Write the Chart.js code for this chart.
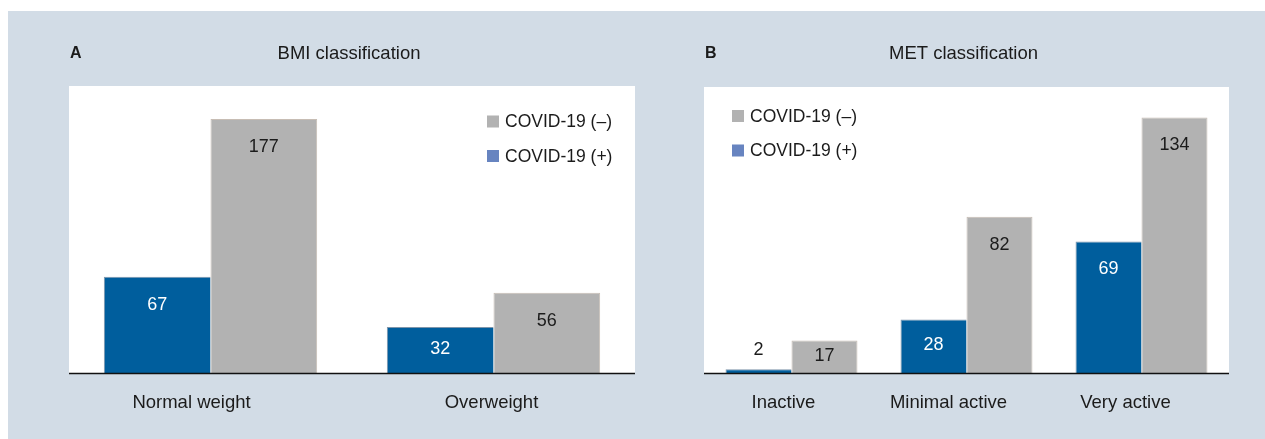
<!DOCTYPE html>
<html>
<head>
<meta charset="utf-8">
<script src="https://cdn.jsdelivr.net/npm/chart.js@4/dist/chart.umd.min.js"></script>
<style>
    html, body { margin: 0; padding: 0; background: #ffffff; }
    body { width: 1265px; height: 439px; position: relative; overflow: hidden; }
    .panel-bg { position: absolute; left: 8px; top: 11px; width: 1257px; height: 428px; background: #d2dce6; }
    .box { position: absolute; top: 11px; height: 428px; }
    #boxA { left: 8px; width: 640px; }
    #boxB { left: 648px; width: 617px; }
</style>
</head>
<body>
<div class="panel-bg"></div>
<div class="box" id="boxA"><canvas id="chartA"></canvas></div>
<div class="box" id="boxB"><canvas id="chartB"></canvas></div>
<script>
    // data
    const bmiCategories = ["Normal weight", "Overweight"];
    const bmiPositive = [67, 32];
    const bmiNegative = [177, 56];

    const metCategories = ["Inactive", "Minimal active", "Very active"];
    const metPositive = [2, 28, 69];
    const metNegative = [17, 82, 134];

    const seriesLabels = ["COVID-19 (+)", "COVID-19 (\u2013)"];

    const FONT = "'Liberation Sans', Arial, sans-serif";
    const TEXT = "#1b1b1b";
    const BLUE = "#005e9d";
    const GREY = "#b2b2b2";
    const legendSwatch = ["#6784c0", "#b2b2b2"];

    const panelDecor = {
        id: "panelDecor",
        beforeDraw(chart, args, opts) {
            const { ctx, chartArea: a } = chart;
            ctx.save();
            ctx.fillStyle = "#ffffff";
            ctx.fillRect(a.left, a.top, a.right - a.left, a.bottom - a.top);
            ctx.restore();
        },
        afterDatasetsDraw(chart, args, opts) {
            const { ctx, chartArea: a } = chart;
            ctx.save();

            // axis line
            ctx.strokeStyle = "#111111";
            ctx.lineWidth = 1.5;
            ctx.beginPath();
            ctx.moveTo(a.left, a.bottom + 0.5);
            ctx.lineTo(a.right, a.bottom + 0.5);
            ctx.stroke();

            // panel letter and title
            ctx.fillStyle = TEXT;
            ctx.textBaseline = "middle";
            ctx.font = `bold 16px ${FONT}`;
            ctx.textAlign = "left";
            ctx.fillText(opts.letter, a.left + 1, 43);
            ctx.font = `18.5px ${FONT}`;
            ctx.textAlign = "center";
            ctx.fillText(opts.title, (a.left + a.right) / 2 - 3, 43);

            // category labels
            const xScale = chart.scales.x;
            chart.data.labels.forEach((lab, i) => {
                const x = xScale.getPixelForValue(i) + (opts.labelShift[i] || 0);
                ctx.fillText(lab, x, a.bottom + 30);
            });

            // value labels
            ctx.font = `18px ${FONT}`;
            chart.data.datasets.forEach((ds, di) => {
                const meta = chart.getDatasetMeta(di);
                meta.data.forEach((bar, i) => {
                    const h = bar.base - bar.y;
                    let y;
                    let colour = di === 0 ? "#ffffff" : TEXT;
                    if (h < 14) {
                        y = bar.y - 19;
                        colour = TEXT;
                    } else {
                        y = Math.min(bar.y + 28, (bar.y + bar.base) / 2 - 1);
                    }
                    ctx.fillStyle = colour;
                    ctx.fillText(String(ds.data[i]), bar.x, y);
                });
            });

            // legend (negative first, as in the figure)
            ctx.textAlign = "left";
            ctx.font = `17.5px ${FONT}`;
            const order = [1, 0];
            order.forEach((di, row) => {
                const cy = a.top + opts.legendTop + row * 34.5;
                const lx = a.left + opts.legendLeft;
                ctx.fillStyle = legendSwatch[di];
                ctx.fillRect(lx, cy - 6, 12, 12);
                ctx.fillStyle = TEXT;
                ctx.fillText(chart.data.datasets[di].label, lx + 18, cy + 1);
            });

            ctx.restore();
        }
    };

    const buildChart = (canvas, labels, positive, negative, yMax, padding, decor) => {
        return new Chart(canvas, {
            type: "bar",
            data: {
                labels,
                datasets: [
                    {
                        label: seriesLabels[0],
                        data: positive,
                        backgroundColor: BLUE,
                        borderColor: "#7f95aa",
                        borderWidth: { top: 1, left: 1, right: 0, bottom: 0 }
                    },
                    {
                        label: seriesLabels[1],
                        data: negative,
                        backgroundColor: GREY,
                        borderColor: "#c7bdb4",
                        borderWidth: 1
                    }
                ]
            },
            options: {
                responsive: true,
                maintainAspectRatio: false,
                animation: false,
                events: [],
                layout: { padding },
                categoryPercentage: 0.754,
                barPercentage: 1,
                scales: {
                    x: { display: false },
                    y: { display: false, min: 0, max: yMax }
                },
                plugins: {
                    legend: { display: false },
                    tooltip: { enabled: false },
                    panelDecor: decor
                }
            },
            plugins: [panelDecor]
        });
    };

    buildChart(document.getElementById("chartA"), bmiCategories, bmiPositive, bmiNegative, 200,
        { left: 61, top: 75, right: 13, bottom: 66 },
        { letter: "A", title: "BMI classification", labelShift: [-19, -2], legendLeft: 418, legendTop: 35.5 });

    buildChart(document.getElementById("chartB"), metCategories, metPositive, metNegative, 150,
        { left: 56, top: 76, right: 36, bottom: 66 },
        { letter: "B", title: "MET classification", labelShift: [-8, -18, -16], legendLeft: 28, legendTop: 29 });
</script>
</body>
</html>
